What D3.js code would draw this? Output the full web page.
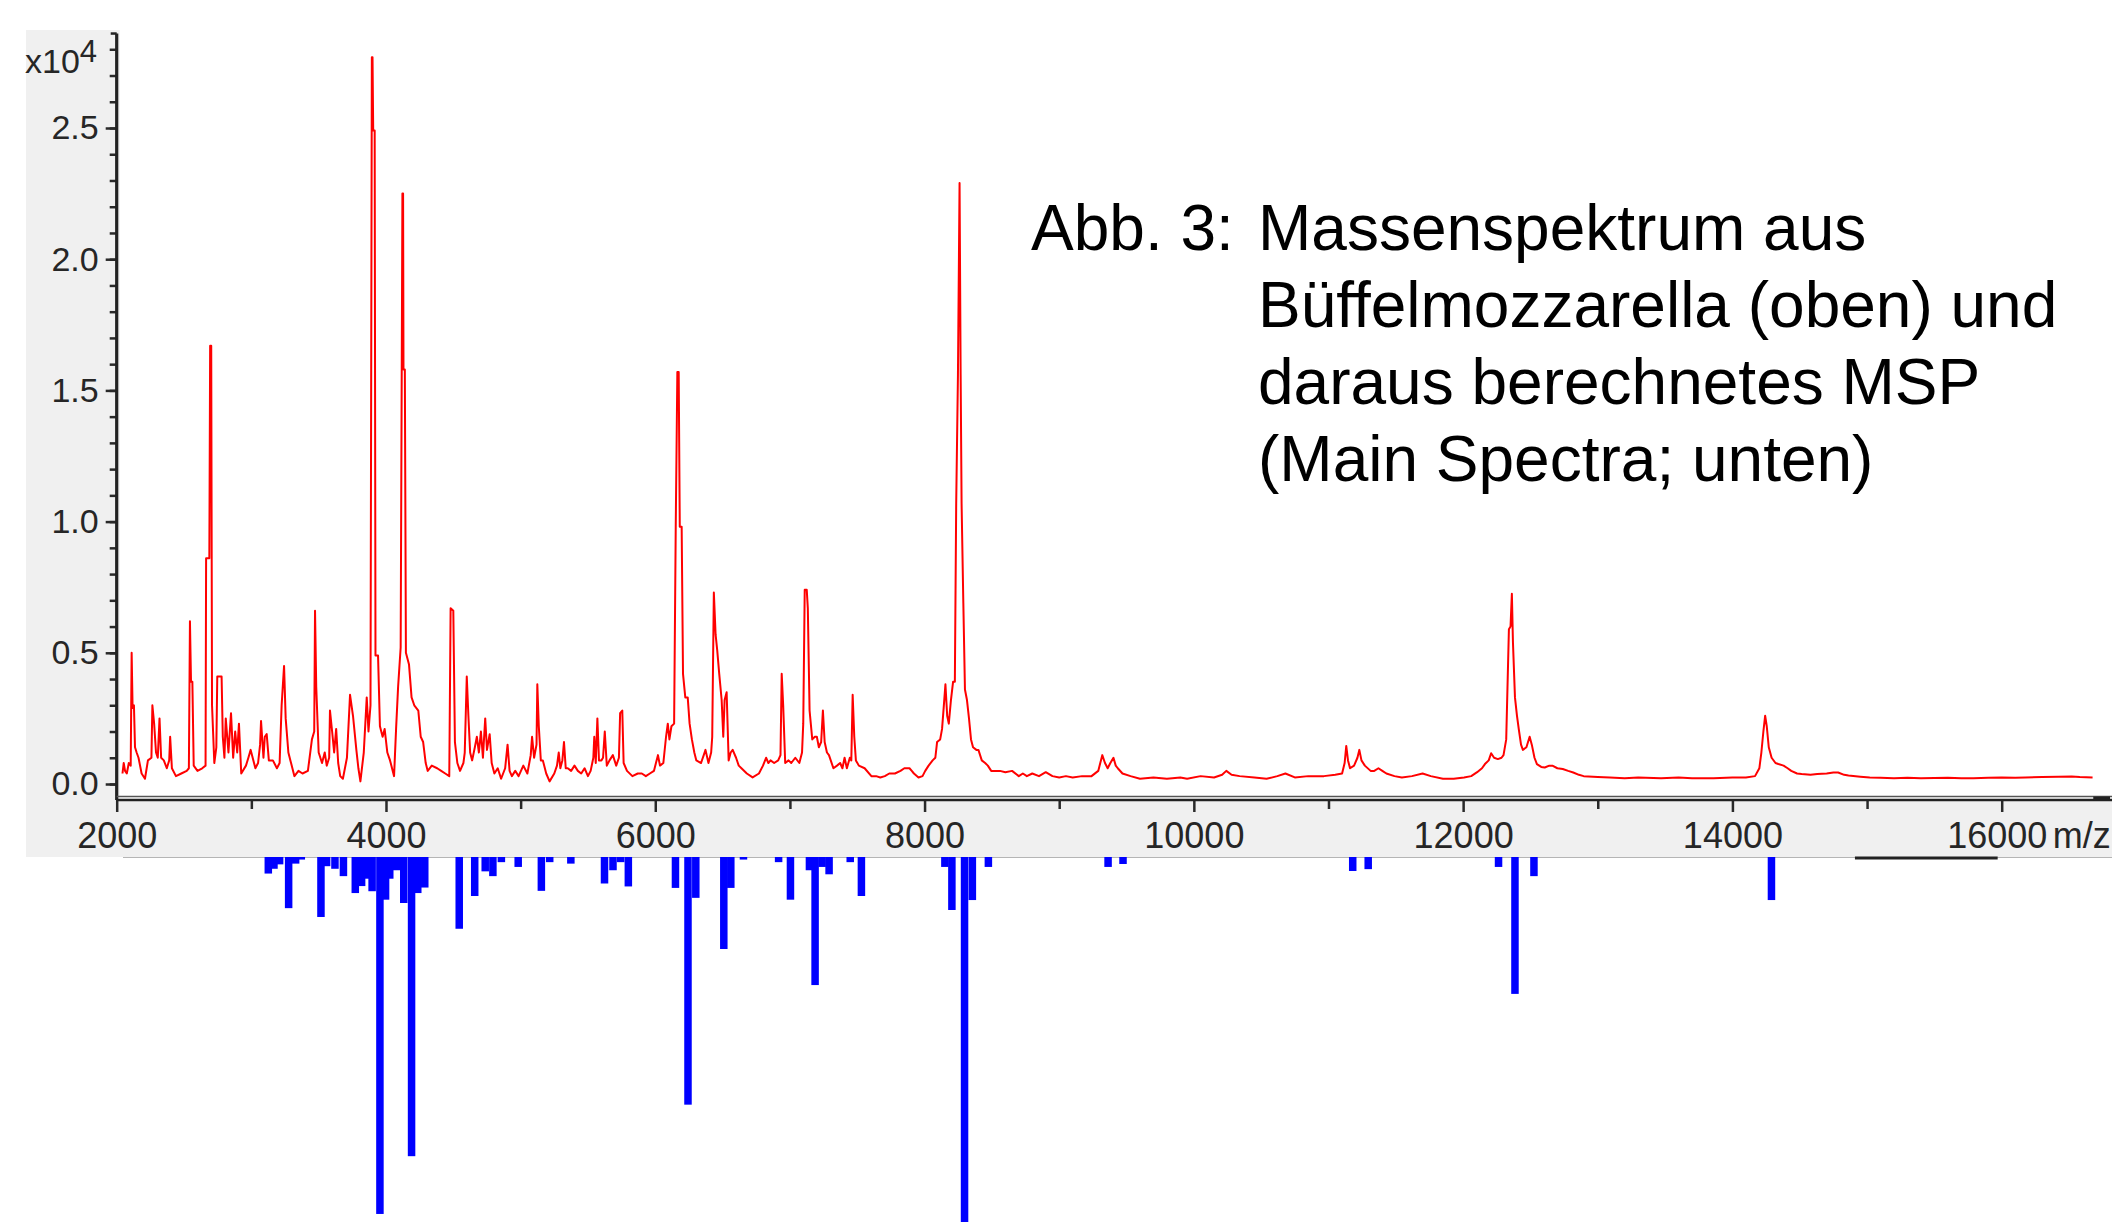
<!DOCTYPE html>
<html>
<head>
<meta charset="utf-8">
<script src="https://cdn.jsdelivr.net/npm/d3@7"></script>
<style>
  html, body { margin: 0; padding: 0; background: #fff; }
  svg { display: block; font-family: "Liberation Sans", Arial, sans-serif; }
</style>
</head>
<body>
<script>
var spectrum = [
  [2043,0.04],[2052,0.08],[2062,0.05],[2075,0.04],[2090,0.08],[2104,0.07],[2111,0.50],[2118,0.29],[2128,0.30],[2136,0.14],
  [2148,0.12],[2162,0.10],[2185,0.04],[2210,0.02],[2232,0.09],[2258,0.10],[2265,0.30],[2278,0.23],[2292,0.12],[2305,0.10],
  [2318,0.25],[2330,0.10],[2350,0.09],[2372,0.06],[2390,0.09],[2397,0.18],[2410,0.06],[2440,0.03],[2480,0.04],[2520,0.05],
  [2536,0.06],[2544,0.62],[2552,0.39],[2562,0.39],[2572,0.07],[2600,0.05],[2635,0.06],[2660,0.07],[2664,0.86],[2688,0.86],
  [2694,1.67],[2702,1.67],[2708,0.30],[2725,0.08],[2740,0.14],[2747,0.41],[2779,0.41],[2788,0.18],[2800,0.10],[2810,0.25],
  [2830,0.12],[2849,0.27],[2865,0.10],[2880,0.20],[2895,0.12],[2908,0.23],[2925,0.04],[2960,0.07],[2978,0.10],[2995,0.13],
  [3030,0.06],[3050,0.08],[3065,0.15],[3072,0.24],[3090,0.10],[3100,0.18],[3114,0.19],[3130,0.09],[3160,0.09],[3190,0.06],
  [3210,0.08],[3225,0.30],[3243,0.45],[3255,0.25],[3275,0.12],[3290,0.09],[3320,0.03],[3350,0.05],[3380,0.04],[3420,0.05],
  [3450,0.17],[3467,0.20],[3473,0.66],[3482,0.37],[3500,0.12],[3525,0.08],[3545,0.12],[3560,0.07],[3578,0.10],[3584,0.28],
  [3600,0.20],[3615,0.12],[3630,0.21],[3645,0.08],[3660,0.03],[3680,0.02],[3710,0.10],[3733,0.34],[3755,0.26],[3780,0.13],
  [3795,0.06],[3810,0.01],[3835,0.12],[3857,0.33],[3870,0.20],[3885,0.30],[3895,2.77],[3900,2.77],[3905,2.49],[3916,2.49],
  [3922,0.49],[3941,0.49],[3955,0.22],[3975,0.18],[3990,0.21],[4010,0.12],[4030,0.09],[4060,0.03],[4075,0.21],[4090,0.37],
  [4109,0.52],[4122,2.25],[4127,2.25],[4130,1.58],[4140,1.58],[4148,0.50],[4171,0.455],[4190,0.33],[4210,0.30],[4240,0.28],
  [4258,0.18],[4276,0.16],[4295,0.08],[4310,0.05],[4340,0.07],[4380,0.06],[4410,0.05],[4440,0.04],[4470,0.03],[4480,0.67],
  [4500,0.66],[4512,0.16],[4530,0.08],[4550,0.05],[4575,0.08],[4585,0.12],[4600,0.41],[4612,0.26],[4625,0.12],[4640,0.09],
  [4660,0.14],[4675,0.18],[4690,0.12],[4705,0.20],[4720,0.10],[4737,0.25],[4750,0.13],[4770,0.19],[4785,0.08],[4805,0.04],
  [4830,0.06],[4855,0.02],[4885,0.06],[4903,0.15],[4918,0.05],[4935,0.03],[4960,0.05],[4985,0.03],[5020,0.07],[5050,0.04],
  [5075,0.11],[5085,0.18],[5100,0.10],[5118,0.15],[5124,0.38],[5135,0.22],[5150,0.09],[5165,0.09],[5190,0.04],[5215,0.01],
  [5250,0.04],[5270,0.07],[5283,0.12],[5295,0.06],[5310,0.09],[5322,0.16],[5335,0.06],[5350,0.06],[5375,0.05],[5400,0.07],
  [5425,0.05],[5450,0.04],[5475,0.06],[5500,0.03],[5520,0.05],[5540,0.10],[5547,0.18],[5558,0.08],[5570,0.25],[5582,0.09],
  [5600,0.09],[5612,0.10],[5625,0.20],[5640,0.07],[5660,0.09],[5685,0.11],[5710,0.07],[5730,0.10],[5739,0.27],[5755,0.28],
  [5765,0.08],[5790,0.05],[5830,0.03],[5870,0.04],[5900,0.04],[5930,0.03],[5960,0.04],[5990,0.05],[6020,0.11],[6035,0.07],
  [6060,0.08],[6080,0.18],[6093,0.23],[6105,0.17],[6120,0.22],[6140,0.23],[6152,0.98],[6164,1.57],[6174,1.57],[6182,0.98],
  [6196,0.98],[6206,0.42],[6223,0.33],[6241,0.33],[6255,0.23],[6272,0.17],[6290,0.12],[6305,0.09],[6340,0.08],[6360,0.11],
  [6373,0.13],[6395,0.08],[6415,0.12],[6423,0.18],[6435,0.73],[6448,0.57],[6460,0.51],[6475,0.42],[6493,0.32],[6505,0.18],
  [6515,0.32],[6530,0.35],[6545,0.09],[6560,0.12],[6575,0.13],[6600,0.10],[6620,0.07],[6640,0.06],[6680,0.04],[6723,0.025],
  [6770,0.04],[6800,0.07],[6823,0.10],[6840,0.08],[6856,0.09],[6883,0.08],[6913,0.09],[6930,0.11],[6939,0.42],[6950,0.30],
  [6965,0.08],[6990,0.09],[7010,0.08],[7040,0.10],[7070,0.08],[7090,0.12],[7099,0.23],[7110,0.74],[7125,0.74],[7133,0.67],
  [7146,0.28],[7166,0.17],[7185,0.18],[7200,0.18],[7215,0.14],[7232,0.16],[7245,0.28],[7258,0.16],[7275,0.12],[7290,0.11],
  [7323,0.06],[7350,0.07],[7373,0.08],[7390,0.06],[7406,0.10],[7423,0.06],[7445,0.10],[7456,0.09],[7466,0.34],[7478,0.18],
  [7490,0.09],[7512,0.07],[7555,0.06],[7605,0.03],[7640,0.03],[7671,0.025],[7705,0.03],[7738,0.04],[7780,0.04],[7821,0.05],
  [7850,0.06],[7888,0.06],[7905,0.05],[7921,0.04],[7955,0.025],[7985,0.03],[8005,0.05],[8030,0.07],[8060,0.09],[8080,0.10],
  [8093,0.16],[8116,0.17],[8130,0.21],[8142,0.29],[8155,0.38],[8168,0.26],[8180,0.23],[8196,0.32],[8212,0.39],[8225,0.39],
  [8235,1.07],[8248,1.56],[8260,2.29],[8268,1.56],[8275,1.07],[8288,0.69],[8300,0.36],[8315,0.32],[8330,0.25],[8345,0.17],
  [8360,0.14],[8385,0.13],[8400,0.13],[8425,0.09],[8450,0.08],[8470,0.07],[8495,0.05],[8520,0.05],[8560,0.05],[8600,0.045],
  [8650,0.05],[8700,0.03],[8730,0.04],[8760,0.03],[8800,0.04],[8850,0.03],[8900,0.045],[8950,0.03],[9000,0.025],[9050,0.03],
  [9100,0.025],[9170,0.03],[9240,0.03],[9290,0.05],[9320,0.11],[9340,0.08],[9360,0.06],[9380,0.08],[9403,0.10],[9420,0.07],
  [9435,0.06],[9470,0.04],[9530,0.03],[9600,0.02],[9700,0.025],[9800,0.02],[9900,0.025],[9950,0.02],[10050,0.03],[10150,0.025],
  [10210,0.035],[10241,0.05],[10280,0.035],[10340,0.03],[10450,0.025],[10540,0.02],[10620,0.03],[10680,0.04],[10750,0.025],[10850,0.03],
  [10966,0.03],[11050,0.035],[11101,0.04],[11120,0.08],[11132,0.145],[11145,0.09],[11160,0.06],[11190,0.07],[11215,0.10],[11229,0.13],
  [11245,0.09],[11270,0.07],[11313,0.05],[11340,0.05],[11371,0.06],[11400,0.05],[11430,0.04],[11490,0.03],[11545,0.025],[11620,0.03],
  [11699,0.04],[11760,0.03],[11850,0.02],[11930,0.02],[12007,0.025],[12060,0.03],[12104,0.045],[12140,0.06],[12162,0.076],[12190,0.09],
  [12208,0.117],[12230,0.10],[12258,0.095],[12285,0.10],[12300,0.11],[12320,0.17],[12340,0.59],[12352,0.60],[12362,0.725],[12370,0.54],
  [12385,0.33],[12400,0.26],[12413,0.21],[12430,0.15],[12444,0.13],[12470,0.14],[12494,0.18],[12510,0.15],[12530,0.10],[12548,0.076],
  [12580,0.065],[12606,0.063],[12640,0.07],[12663,0.07],[12700,0.06],[12740,0.057],[12780,0.05],[12818,0.044],[12860,0.035],[12895,0.03],
  [13000,0.027],[13090,0.025],[13200,0.022],[13300,0.025],[13470,0.022],[13600,0.025],[13700,0.022],[13860,0.022],[14000,0.025],[14100,0.025],
  [14168,0.03],[14200,0.06],[14215,0.12],[14230,0.20],[14243,0.26],[14255,0.22],[14270,0.14],[14291,0.10],[14320,0.08],[14341,0.076],
  [14380,0.07],[14410,0.06],[14437,0.05],[14480,0.04],[14514,0.038],[14580,0.035],[14630,0.038],[14700,0.04],[14750,0.044],[14785,0.044],
  [14830,0.035],[14862,0.032],[14950,0.028],[15020,0.025],[15100,0.024],[15200,0.022],[15300,0.024],[15400,0.022],[15500,0.023],[15600,0.024],
  [15700,0.022],[15790,0.022],[15900,0.024],[16000,0.025],[16100,0.024],[16175,0.025],[16300,0.027],[16420,0.028],[16520,0.029],[16580,0.027],
  [16675,0.025]
];

// main spectrum peaks (m/z, relative intensity), drawn downward
var msp = [
  [3126,0.045],[3168,0.032],[3210,0.02],[3277,0.139],[3329,0.018],[3371,0.007],[3517,0.163],[3559,0.025],[3621,0.032],[3684,0.052],
  [3772,0.098],[3819,0.079],[3851,0.059],[3897,0.093],[3955,0.97],[3997,0.116],[4028,0.059],[4080,0.036],[4132,0.125],[4190,0.813],
  [4236,0.098],[4288,0.083],[4544,0.195],[4659,0.106],[4737,0.039],[4794,0.052],[4857,0.014],[4982,0.027],[5154,0.092],[5216,0.014],
  [5373,0.018],[5623,0.072],[5686,0.036],[5743,0.014],[5800,0.080],[6150,0.084],[6243,0.673],[6301,0.111],[6509,0.25],[6561,0.084],
  [6655,0.007],[6916,0.014],[7004,0.116],[7145,0.036],[7187,0.348],[7239,0.027],[7291,0.047],[7448,0.014],[7531,0.106],[8151,0.027],
  [8203,0.144],[8297,1.0],[8355,0.117],[8474,0.027],[9363,0.027],[9474,0.019],[11180,0.038],[11295,0.033],[12263,0.027],[12385,0.372],
  [12526,0.052],[14290,0.117]
];

var yLabels = [0, 0.5, 1.0, 1.5, 2.0, 2.5];
var xLabels = [2000, 4000, 6000, 8000, 10000, 12000, 14000, 16000];
var titleHead = "Abb. 3:";
var titleLines = ["Massenspektrum aus", "Büffelmozzarella (oben) und", "daraus berechnetes MSP", "(Main Spectra; unten)"];

var width = 2112, height = 1222,
    axisX = 116.7, axisY = 800, stripBottom = 857;

var svg = d3.select("body").append("svg")
  .attr("width", width)
  .attr("height", height);

var x = d3.scaleLinear().domain([2000, 16000]).range([axisX, 2001.7]);
var y = d3.scaleLinear().domain([0, 2.5]).range([784, 128]);
var yMsp = d3.scaleLinear().domain([0, 1]).range([stripBottom, stripBottom + 368]);

// grey panel behind the axes
svg.append("rect").attr("x", 26).attr("y", 30).attr("width", axisX + 3 - 26).attr("height", stripBottom - 30).attr("fill", "#f0f0f0");
svg.append("rect").attr("x", 26).attr("y", axisY).attr("width", width - 26).attr("height", stripBottom - axisY).attr("fill", "#f0f0f0");
svg.append("line").attr("x1", 123).attr("x2", width).attr("y1", stripBottom + 0.5).attr("y2", stripBottom + 0.5)
  .attr("stroke", "#b5b5b5").attr("stroke-width", 1);

// MSP bars
svg.selectAll("rect.msp")
  .data(msp)
  .enter()
  .append("rect")
  .attr("class", "msp")
  .attr("x", function(d){ return x(d[0]) - 3.75; })
  .attr("y", yMsp(0))
  .attr("width", 7.5)
  .attr("height", function(d){ return yMsp(d[1]) - yMsp(0); })
  .attr("fill", "#0000ff");

// spectrum
var line = d3.line()
  .x(function(d){ return x(d[0]); })
  .y(function(d){ return y(d[1]); });

svg.append("path")
  .datum(spectrum)
  .attr("d", line)
  .attr("fill", "none")
  .attr("stroke", "#ff0000")
  .attr("stroke-width", 2)
  .attr("stroke-linejoin", "round");

//Axis
var yMinor = d3.axisLeft(y).tickValues(d3.range(0, 28).map(function(i){ return i / 10; }).concat([2.8])).tickSize(7).tickFormat("");
var yMajor = d3.axisLeft(y).tickValues(yLabels).tickSize(11).tickPadding(7).tickFormat(d3.format(".1f"));

var gy = svg.append("g").attr("transform", "translate(" + axisX + ",0)");
gy.append("g").call(yMinor);
gy.append("g").call(yMajor);
gy.selectAll(".domain").remove();
gy.selectAll("line").attr("stroke", "#2a2a2a").attr("stroke-width", 2.5);
gy.selectAll("text").attr("font-size", 34).attr("fill", "#262626").attr("font-family", "Liberation Sans, Arial, sans-serif");
svg.append("line").attr("x1", axisX).attr("x2", axisX).attr("y1", y(2.86)).attr("y2", axisY)
  .attr("stroke", "#222").attr("stroke-width", 3.2);
svg.append("line").attr("x1", axisX - 6).attr("x2", axisX).attr("y1", y(2.86)).attr("y2", y(2.86))
  .attr("stroke", "#222").attr("stroke-width", 2.5);

var xMinor = d3.axisBottom(x).tickValues(d3.range(3000, 17000, 2000)).tickSize(9).tickFormat("");
var xMajor = d3.axisBottom(x).tickValues(xLabels).tickSize(12).tickPadding(10).tickFormat(d3.format("d"));

var gx = svg.append("g").attr("transform", "translate(0," + axisY + ")");
gx.append("g").call(xMinor);
gx.append("g").call(xMajor);
gx.selectAll(".domain").remove();
gx.selectAll("line").attr("stroke", "#2a2a2a").attr("stroke-width", 2.5);
gx.selectAll("text").attr("font-size", 36).attr("fill", "#262626").attr("font-family", "Liberation Sans, Arial, sans-serif");
// last label sits a little left of its tick in the original
gx.selectAll("text").filter(function(d){ return d === 16000; }).attr("dx", -5);

svg.append("line").attr("x1", axisX).attr("x2", width).attr("y1", axisY - 3.5).attr("y2", axisY - 3.5)
  .attr("stroke", "#555").attr("stroke-width", 1.5);
svg.append("line").attr("x1", axisX).attr("x2", width).attr("y1", axisY).attr("y2", axisY)
  .attr("stroke", "#222").attr("stroke-width", 2.5);
svg.append("line").attr("x1", x(16680)).attr("x2", width - 2).attr("y1", axisY - 1.5).attr("y2", axisY - 1.5)
  .attr("stroke", "#222").attr("stroke-width", 4);

// unit after last tick label
svg.append("text")
  .attr("x", x(16000) + 51)
  .attr("y", 848)
  .attr("font-size", 36)
  .attr("fill", "#262626")
  .text("m/z");

// scroll marker under the axis
svg.append("line").attr("x1", x(14910)).attr("x2", x(15970)).attr("y1", stripBottom + 1).attr("y2", stripBottom + 1)
  .attr("stroke", "#222").attr("stroke-width", 3);

// exponent label
var ex = svg.append("text").attr("x", 25).attr("y", 73).attr("font-size", 34).attr("fill", "#262626");
ex.append("tspan").text("x10");
ex.append("tspan").attr("dy", -11).attr("font-size", 31).text("4");

// caption
var cap = svg.append("g").attr("font-size", 64).attr("fill", "#000");
cap.append("text").attr("x", 1031).attr("y", 250).text(titleHead);
cap.selectAll("text.line")
  .data(titleLines)
  .enter()
  .append("text")
  .attr("class", "line")
  .attr("x", 1258)
  .attr("y", function(d, i){ return 250 + i * 77; })
  .text(function(d){ return d; });
</script>
</body>
</html>
